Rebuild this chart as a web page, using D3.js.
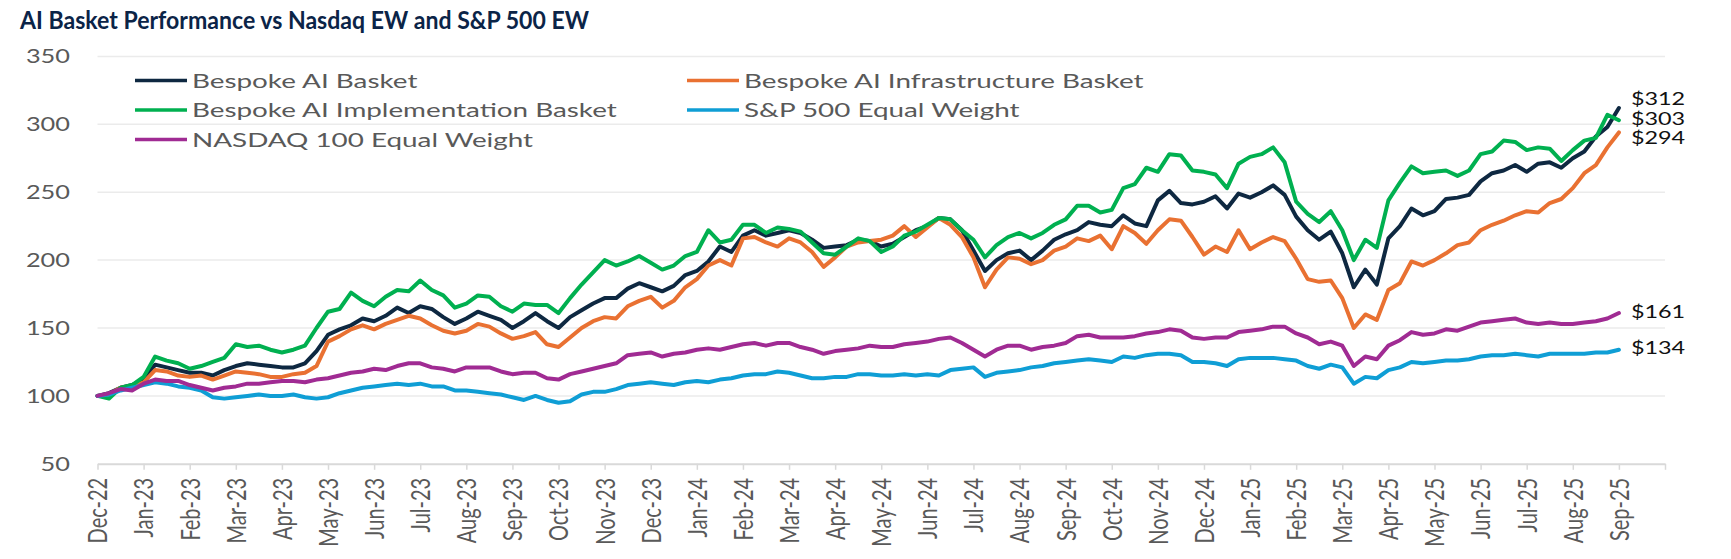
<!DOCTYPE html>
<html lang="en">
<head>
<meta charset="UTF-8">
<title>AI Basket Performance vs Nasdaq EW and S&amp;P 500 EW</title>
<script src="https://cdn.jsdelivr.net/npm/d3@7"></script>
<style>
body {
    margin: 0;
    background: #fff;
}
svg {
    display: block;
    font-family: 'Lato', 'Open Sans', sans-serif;
}
</style>
</head>
<body>
<div id="chart"></div>
<script>
// Month tick labels (one tick per slot, the closing tick has no label)
const monthLabels = ["Dec-22","Jan-23","Feb-23","Mar-23","Apr-23","May-23","Jun-23","Jul-23","Aug-23","Sep-23","Oct-23","Nov-23",
    "Dec-23","Jan-24","Feb-24","Mar-24","Apr-24","May-24","Jun-24","Jul-24","Aug-24","Sep-24","Oct-24","Nov-24",
    "Dec-24","Jan-25","Feb-25","Mar-25","Apr-25","May-25","Jun-25","Jul-25","Aug-25","Sep-25"];
const yTicks = [50, 100, 150, 200, 250, 300, 350];

// Series values, 4 readings per month slot
const aiBasket = [
    100,102,106,108, 112,123,121,119, 117,117,115,119, 122,124,123,122, 121,121,124,133,
    145,149,152,157, 155,159,165,161, 166,164,158,153, 157,162,159,156, 150,155,161,155,
    150,158,163,168, 172,172,179,183, 180,177,181,189, 192,199,210,206, 218,222,218,220,
    222,220,215,209, 210,211,215,214, 210,212,217,222, 225,231,230,222, 207,192,200,205,
    207,200,207,215, 219,222,228,226, 225,233,227,225, 244,251,242,241, 243,247,238,249,
    246,250,255,248, 232,222,215,221, 205,180,193,182, 216,225,238,233, 236,245,246,248,
    258,264,266,270, 265,271,272,268, 275,280,291,298, 312];
const aiInfra = [
    100,101,106,107, 110,119,118,115, 114,115,112,115, 118,117,116,114, 114,116,117,122,
    140,144,149,152, 149,153,156,159, 157,152,148,146, 148,153,151,146, 142,144,147,138,
    136,143,150,155, 158,157,166,170, 173,165,170,180, 186,196,200,196, 216,217,213,210,
    216,213,206,195, 202,210,213,214, 215,218,225,217, 224,231,226,217, 202,180,193,202,
    201,197,200,207, 210,216,214,218, 208,225,220,212, 222,230,229,217, 204,210,206,222,
    208,213,217,214, 201,186,184,185, 172,150,160,156, 178,183,199,196, 200,205,211,213,
    222,226,229,233, 236,235,242,245, 253,264,270,283, 294];
const aiImpl = [
    100,98,106,108, 114,129,126,124, 120,122,125,128, 138,136,137,134, 132,134,137,150,
    162,164,176,170, 166,173,178,177, 185,178,174,165, 168,174,173,166, 162,168,167,167,
    161,172,182,191, 200,196,199,203, 198,193,196,203, 206,222,213,215, 226,226,220,224,
    223,221,213,205, 204,210,216,214, 206,210,218,221, 226,231,230,222, 215,202,211,217,
    220,216,220,226, 230,240,240,235, 237,253,256,268, 265,278,277,266, 265,263,253,271,
    276,278,283,272, 243,234,228,236, 222,200,215,209, 244,257,269,264, 265,266,262,266,
    278,280,288,287, 281,283,282,273, 281,288,290,307, 303];
const spEW = [
    100,101,104,106, 108,110,109,107, 106,104,99,98, 99,100,101,100, 100,101,99,98,
    99,102,104,106, 107,108,109,108, 109,107,107,104, 104,103,102,101, 99,97,100,97,
    95,96,101,103, 103,105,108,109, 110,109,108,110, 111,110,112,113, 115,116,116,118,
    117,115,113,113, 114,114,116,116, 115,115,116,115, 116,115,119,120, 121,114,117,118,
    119,121,122,124, 125,126,127,126, 125,129,128,130, 131,131,130,125, 125,124,122,127,
    128,128,128,127, 126,122,120,123, 121,109,114,113, 119,121,125,124, 125,126,126,127,
    129,130,130,131, 130,129,131,131, 131,131,132,132, 134];
const ndxEW = [
    100,102,105,104, 109,112,111,111, 108,106,104,106, 107,109,109,110, 111,111,110,112,
    113,115,117,118, 120,119,122,124, 124,121,120,118, 121,121,121,118, 116,117,117,113,
    112,116,118,120, 122,124,130,131, 132,129,131,132, 134,135,134,136, 138,139,137,139,
    139,136,134,131, 133,134,135,137, 136,136,138,139, 140,142,143,139, 134,129,134,137,
    137,134,136,137, 139,144,145,143, 143,143,144,146, 147,149,148,143, 142,143,143,147,
    148,149,151,151, 146,143,138,140, 137,122,129,127, 137,141,147,145, 146,149,148,151,
    154,155,156,157, 154,153,154,153, 153,154,155,157, 161];

// Draw order follows the legend order (first series at the bottom)
const series = [
    { name: "Bespoke AI Basket", values: aiBasket, color: "#0e2841" },
    { name: "Bespoke AI Infrastructure Basket", values: aiInfra, color: "#e97132" },
    { name: "Bespoke AI Implementation Basket", values: aiImpl, color: "#00b050" },
    { name: "S&P 500 Equal Weight", values: spEW, color: "#0f9ed5" },
    { name: "NASDAQ 100 Equal Weight", values: ndxEW, color: "#a02b93" }
];

const width = 1731, height = 559;
const stepsPerMonth = 4;
const stretch = 1.3;   // chart text in the original is widened

const svg = d3.select("#chart").append("svg")
    .attr("width", width).attr("height", height);

// one slot per month label plus a closing slot
const x = d3.scaleLinear().domain([0, monthLabels.length]).range([97.5, 1665]);
const y = d3.scaleLinear().domain([50, 350]).range([463.8, 56.4]);

// Title
svg.append("text")
    .attr("x", 20).attr("y", 29)
    .attr("textLength", 569).attr("lengthAdjust", "spacingAndGlyphs")
    .style("font-size", "24px").style("font-weight", 700)
    .attr("fill", "#0b2447")
    .text("AI Basket Performance vs Nasdaq EW and S&P 500 EW");

// Gridlines
svg.append("g").selectAll("line")
    .data(yTicks.filter(d => d > 50))
    .enter().append("line")
    .attr("x1", x.range()[0]).attr("x2", x.range()[1])
    .attr("y1", d => y(d)).attr("y2", d => y(d))
    .attr("stroke", "#ebebeb").attr("stroke-width", 1.5);

// Y labels
svg.append("g").selectAll("text")
    .data(yTicks)
    .enter().append("text")
    .attr("transform", d => `translate(70,${y(d)}) scale(${stretch},1)`)
    .attr("dy", "0.36em")
    .attr("text-anchor", "end")
    .attr("fill", "#595959")
    .style("font-size", "19.5px")
    .text(d => d);

// X axis
const xAxis = svg.append("g")
    .attr("transform", `translate(0,${y(50)})`)
    .call(d3.axisBottom(x)
        .tickValues(d3.range(monthLabels.length + 1))
        .tickSize(6)
        .tickSizeOuter(0)
        .tickFormat(i => monthLabels[i] || ""));
xAxis.select(".domain").attr("stroke", "#d9d9d9").attr("stroke-width", 2);
xAxis.selectAll(".tick line").attr("stroke", "#d9d9d9").attr("stroke-width", 1.5);
xAxis.selectAll(".tick text")
    .attr("x", 0).attr("y", 0).attr("dy", "0.36em")
    .attr("transform", `translate(0,14) scale(${stretch},1) rotate(-90)`)
    .style("text-anchor", "end")
    .style("font-size", "20px")
    .style("font-family", "Lato, sans-serif")
    .attr("fill", "#595959");

// Lines
const line = d3.line()
    .x((d, i) => x(i / stepsPerMonth))
    .y(d => y(d));

svg.append("g").selectAll("path")
    .data(series)
    .enter().append("path")
    .attr("d", d => line(d.values))
    .attr("fill", "none")
    .attr("stroke", d => d.color)
    .attr("stroke-width", 4)
    .attr("stroke-linejoin", "round")
    .attr("stroke-linecap", "round");

// Legend, two columns
const legend = svg.append("g");
const legendCols = [135, 687];
const legendRows = [80.5, 110, 139.5];
const items = legend.selectAll("g")
    .data(series)
    .enter().append("g")
    .attr("transform", (d, i) => `translate(${legendCols[i % 2]},${legendRows[Math.floor(i / 2)]})`);
items.append("line")
    .attr("x1", 0).attr("x2", 52)
    .attr("stroke", d => d.color).attr("stroke-width", 3.5);
const legendText = items.append("text")
    .attr("dy", "0.36em")
    .attr("fill", "#595959")
    .style("font-size", "19.5px")
    .text(d => d.name);
// widen legend text so the implementation label spans the same width as the original
const natural = legendText.filter(d => d.name.includes("Implementation")).node().getComputedTextLength();
const legendStretch = 425 / natural;
legendText.attr("transform", `translate(57,0) scale(${legendStretch},1)`);

// End value labels, spread apart when they collide
const lastX = x((aiBasket.length - 1) / stepsPerMonth);
const ends = series.map(d => ({ value: d.values[d.values.length - 1], pos: y(d.values[d.values.length - 1]) }))
    .sort((a, b) => a.pos - b.pos);
const minGap = 19.5;
for (let k = 0; k < 20; k++) {
    for (let i = 1; i < ends.length; i++) {
        const gap = ends[i].pos - ends[i - 1].pos;
        if (gap < minGap) {
            const push = (minGap - gap) / 2;
            ends[i].pos += push;
            ends[i - 1].pos -= push;
        }
    }
}
svg.append("g").selectAll("text")
    .data(ends)
    .enter().append("text")
    .attr("transform", d => `translate(${lastX + 12},${d.pos - 2}) scale(${stretch},1)`)
    .attr("dy", "0.36em")
    .attr("fill", "#111")
    .style("font-size", "18px")
    .text(d => "$" + d.value);
</script>
</body>
</html>
